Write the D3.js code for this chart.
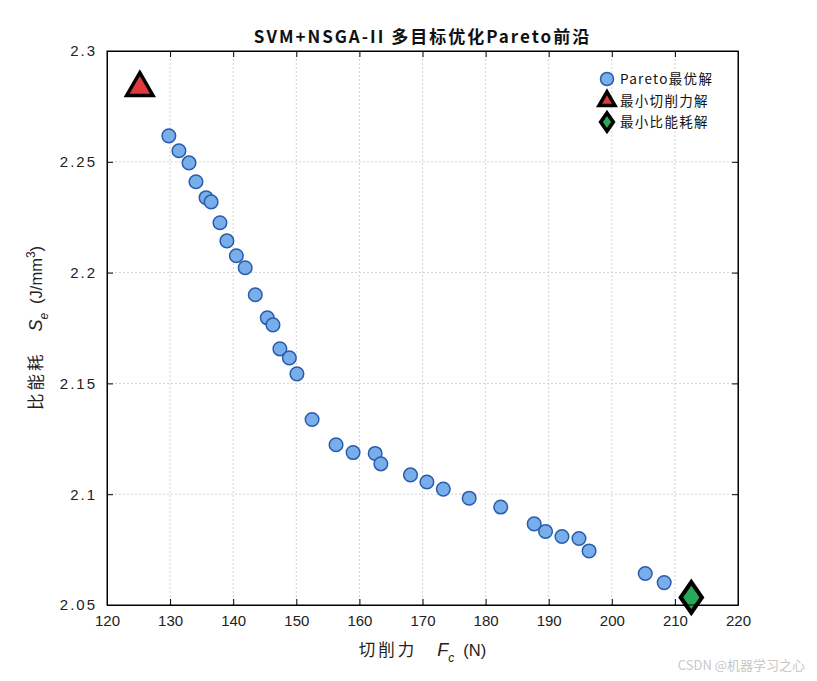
<!DOCTYPE html>
<html>
<head>
<meta charset="utf-8">
<script src="https://cdn.jsdelivr.net/npm/d3@7"></script>
<style>
  body { margin: 0; background: #fff; }
  text { font-family: "Liberation Sans", Arial, sans-serif; }
  .cjk { font-family: "Noto Sans CJK SC", sans-serif; }
</style>
</head>
<body>
<div id="chart"></div>
<script>
// --- data
var fc = [129.8, 131.4, 133.0, 134.1, 135.7, 136.5, 137.9, 139.0, 140.5, 141.9,
          143.5, 145.4, 146.3, 147.4, 148.9, 150.1, 152.5, 156.3, 159.0, 162.5,
          163.4, 168.1, 170.7, 173.3, 177.4, 182.4, 187.7, 189.5, 192.1, 194.8,
          196.4, 205.3, 208.3];
var se = [2.2617, 2.2550, 2.2495, 2.2410, 2.2338, 2.2319, 2.2225, 2.2143, 2.2076, 2.2022,
          2.1900, 2.1796, 2.1764, 2.1656, 2.1615, 2.1543, 2.1337, 2.1223, 2.1188, 2.1184,
          2.1137, 2.1087, 2.1055, 2.1023, 2.0982, 2.0942, 2.0866, 2.0832, 2.0809, 2.0800,
          2.0744, 2.0642, 2.0601];
var minForce = [125.2, 2.2838];   // 最小切削力解
var minEnergy = [212.6, 2.0534];  // 最小比能耗解
var xTicks = [120, 130, 140, 150, 160, 170, 180, 190, 200, 210, 220];
var yTicks = [2.05, 2.1, 2.15, 2.2, 2.25, 2.3];
var legendLabels = ['Pareto最优解', '最小切削力解', '最小比能耗解'];

// --- margins
var M = {top: 51, right: 79, bottom: 76, left: 107};
var outerWidth = 817, outerHeight = 681;
var w = outerWidth - M.left - M.right,
    h = outerHeight - M.top - M.bottom;

var svg = d3.select('#chart').append('svg')
    .attr('width', outerWidth)
    .attr('height', outerHeight);

var plot = svg.append('g')
    .attr('transform', 'translate(' + M.left + ',' + M.top + ')');

var x = d3.scaleLinear().domain([120, 220]).range([0, w]);
var y = d3.scaleLinear().domain([2.05, 2.3]).range([h, 0]);

// grid
plot.append('g').selectAll('line').data(xTicks.slice(1, -1)).enter().append('line')
    .attr('x1', d => x(d)).attr('x2', d => x(d))
    .attr('y1', 0).attr('y2', h)
    .style('stroke', '#d4d4d4').style('stroke-dasharray', '2,2');
plot.append('g').selectAll('line').data(yTicks.slice(1, -1)).enter().append('line')
    .attr('y1', d => y(d)).attr('y2', d => y(d))
    .attr('x1', 0).attr('x2', w)
    .style('stroke', '#d4d4d4').style('stroke-dasharray', '2,2');

// axes (ticks pointing inward)
var xAxis = plot.append('g').attr('transform', 'translate(0,' + h + ')')
    .call(d3.axisBottom(x).tickValues(xTicks).tickSizeInner(-6).tickSizeOuter(0).tickPadding(10));
var xTop = plot.append('g')
    .call(d3.axisTop(x).tickValues(xTicks).tickSizeInner(-6).tickSizeOuter(0).tickFormat(''));
var yAxis = plot.append('g')
    .call(d3.axisLeft(y).tickValues(yTicks).tickSizeInner(-6).tickSizeOuter(0).tickPadding(10)
      .tickFormat(d3.format('')));
var yRight = plot.append('g').attr('transform', 'translate(' + w + ',0)')
    .call(d3.axisRight(y).tickValues(yTicks).tickSizeInner(-6).tickSizeOuter(0).tickFormat(''));

[xAxis, xTop, yAxis, yRight].forEach(function(a) {
  a.selectAll('path, line').style('stroke', '#000').style('stroke-width', 1);
  a.selectAll('text').style('font-size', '15px').style('fill', '#222')
    .style('font-family', '"Liberation Sans", Arial, sans-serif');
});
yAxis.selectAll('text').style('letter-spacing', '2px');

// pareto points
plot.append('g').selectAll('circle').data(fc).enter().append('circle')
    .attr('cx', (d, i) => x(fc[i]))
    .attr('cy', (d, i) => y(se[i]))
    .attr('r', 6.8)
    .style('fill', '#78aeea')
    .style('stroke', '#2a5cad')
    .style('stroke-width', 1.5);

// special markers
var tri = d3.symbol().type(d3.symbolTriangle);
var dia = d3.symbol().type(d3.symbolDiamond);

plot.append('path')
    .attr('d', tri.size(300)())
    .attr('transform', 'translate(' + x(minForce[0]) + ',' + (y(minForce[1]) + 1) + ')')
    .style('fill', '#e03a3a').style('stroke', '#000').style('stroke-width', 3.5)
    .style('stroke-linejoin', 'miter');

plot.append('path')
    .attr('d', dia.size(270)())
    .attr('transform', 'translate(' + x(minEnergy[0]) + ',' + y(minEnergy[1]) + ') scale(1.2,1)')
    .style('fill', '#2aa85a').style('stroke', '#000').style('stroke-width', 3.6)
    .style('stroke-linejoin', 'miter');

// legend
var lg = plot.append('g').attr('transform', 'translate(' + (w - 131) + ',28)');
lg.append('circle').attr('cx', 0).attr('cy', 0).attr('r', 6.5)
    .style('fill', '#78aeea').style('stroke', '#2a5cad').style('stroke-width', 1.5);
lg.append('path').attr('d', tri.size(110)())
    .attr('transform', 'translate(0,22)')
    .style('fill', '#e03a3a').style('stroke', '#000').style('stroke-width', 3.5);
lg.append('path').attr('d', dia.size(95)())
    .attr('transform', 'translate(0,43) scale(1.2,1)')
    .style('fill', '#2aa85a').style('stroke', '#000').style('stroke-width', 3.2);
lg.selectAll('text.lab').data(legendLabels).enter().append('text')
    .attr('class', 'lab cjk')
    .attr('x', 13)
    .attr('y', (d, i) => i * 21.5 + 5)
    .style('font-size', '13.5px')
    .style('fill', '#111')
    .style('letter-spacing', '1.3px')
    .text(d => d);

// title
svg.append('text')
    .attr('class', 'cjk')
    .attr('x', M.left + w / 2)
    .attr('y', 43)
    .attr('text-anchor', 'middle')
    .style('font-size', '17px')
    .style('font-weight', 'bold')
    .style('letter-spacing', '2px')
    .style('fill', '#111')
    .text('SVM+NSGA-II 多目标优化Pareto前沿');

// x label
var xl = svg.append('text')
    .attr('x', M.left + w / 2)
    .attr('y', 656)
    .attr('text-anchor', 'middle')
    .style('font-size', '16.5px')
    .style('fill', '#222');
xl.append('tspan').attr('class', 'cjk').style('letter-spacing', '3px').text('切削力');
xl.append('tspan').attr('dx', 20).style('font-style', 'italic').style('font-size', '18px').text('F');
xl.append('tspan').attr('dy', 6).style('font-size', '12px').style('font-style', 'italic').text('c');
xl.append('tspan').attr('dx', 9).attr('dy', -6).text('(N)');

// y label
var yl = svg.append('text')
    .attr('transform', 'translate(42,' + (M.top + h / 2) + ') rotate(-90)')
    .attr('text-anchor', 'middle')
    .style('font-size', '16.5px')
    .style('fill', '#222');
yl.append('tspan').attr('class', 'cjk').style('letter-spacing', '3px').text('比能耗');
yl.append('tspan').attr('dx', 20).style('font-style', 'italic').style('font-size', '18px').text('S');
yl.append('tspan').attr('dy', 6).style('font-size', '12px').style('font-style', 'italic').text('e');
yl.append('tspan').attr('dx', 9).attr('dy', -6).text('(J/mm');
yl.append('tspan').attr('dy', -7).style('font-size', '12px').text('3');
yl.append('tspan').attr('dy', 7).text(')');

// frame
plot.append('rect').attr('width', w).attr('height', h)
    .style('fill', 'none').style('stroke', '#000').style('stroke-width', 1);

// watermark
svg.append('text')
    .attr('class', 'cjk')
    .attr('x', 805).attr('y', 670)
    .attr('text-anchor', 'end')
    .style('font-size', '13px')
    .style('fill', '#c8c8c8')
    .text('CSDN @机器学习之心');
</script>
</body>
</html>
